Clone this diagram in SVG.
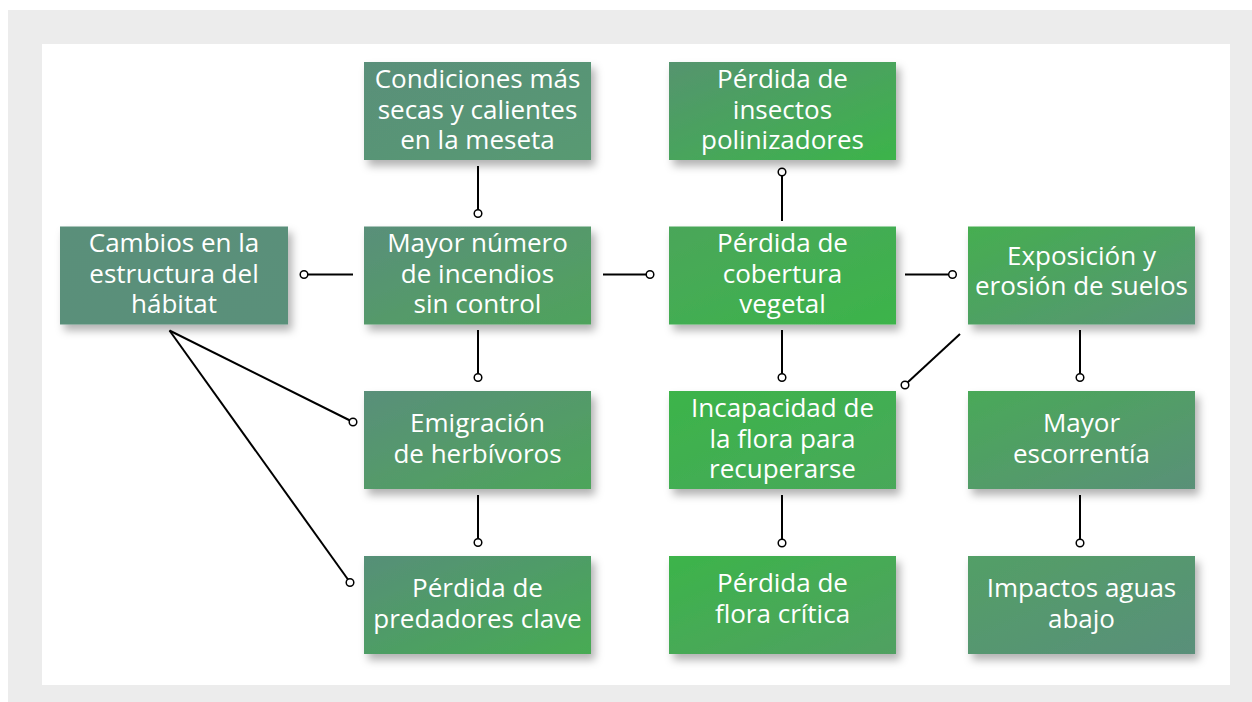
<svg xmlns="http://www.w3.org/2000/svg" width="1252" height="702" viewBox="0 0 1252 702">
<style>
.t{font-family:"Open Sans","Noto Sans",sans-serif;font-size:26px;fill:#ffffff;text-anchor:middle}
.c line{stroke:#000;stroke-width:2}
.c circle{fill:#fff;stroke:#000;stroke-width:1.5}
</style>
<defs>
<filter id="sh" x="-10%" y="-15%" width="125%" height="140%">
<feDropShadow dx="4" dy="6" stdDeviation="4" flood-color="#000" flood-opacity="0.3"/>
</filter>
<linearGradient id="gCamb" x1="0" y1="0" x2="1" y2="1"><stop offset="0" stop-color="#5a8f7a"/><stop offset="1" stop-color="#5a907a"/></linearGradient>
<linearGradient id="gCond" x1="0" y1="0" x2="1" y2="1"><stop offset="0" stop-color="#5a8f7a"/><stop offset="1" stop-color="#589a72"/></linearGradient>
<linearGradient id="gMay" x1="0" y1="0" x2="1" y2="1"><stop offset="0" stop-color="#5a8f7a"/><stop offset="1" stop-color="#4fa35c"/></linearGradient>
<linearGradient id="gEmi" x1="0" y1="0" x2="1" y2="1"><stop offset="0" stop-color="#5a8f7a"/><stop offset="1" stop-color="#4da55a"/></linearGradient>
<linearGradient id="gPred" x1="0" y1="0" x2="1" y2="1"><stop offset="0" stop-color="#568f78"/><stop offset="1" stop-color="#47ab53"/></linearGradient>
<linearGradient id="gIns" x1="0" y1="0" x2="1" y2="1"><stop offset="0" stop-color="#55946f"/><stop offset="1" stop-color="#3cb44a"/></linearGradient>
<linearGradient id="gCob" x1="0" y1="0" x2="1" y2="1"><stop offset="0" stop-color="#4aa65a"/><stop offset="1" stop-color="#3cb44a"/></linearGradient>
<linearGradient id="gInc" x1="0" y1="0" x2="1" y2="1"><stop offset="0" stop-color="#3cb44a"/><stop offset="1" stop-color="#48a85a"/></linearGradient>
<linearGradient id="gFlo" x1="0" y1="0" x2="1" y2="1"><stop offset="0" stop-color="#3cb44a"/><stop offset="1" stop-color="#51a062"/></linearGradient>
<linearGradient id="gExp" x1="0" y1="0" x2="1" y2="1"><stop offset="0" stop-color="#45ae50"/><stop offset="1" stop-color="#589476"/></linearGradient>
<linearGradient id="gEsc" x1="0" y1="0" x2="1" y2="1"><stop offset="0" stop-color="#4aa958"/><stop offset="1" stop-color="#5a9078"/></linearGradient>
<linearGradient id="gImp" x1="0" y1="0" x2="1" y2="1"><stop offset="0" stop-color="#529f66"/><stop offset="1" stop-color="#5a8f7a"/></linearGradient>
</defs>
<rect x="0" y="0" width="1252" height="702" fill="#ffffff"/>
<rect x="8" y="10" width="1244" height="692" fill="#ececec"/>
<rect x="42" y="44" width="1188" height="641" fill="#ffffff"/>

<g class="c" id="connectors">
<line x1="478" y1="166" x2="478" y2="210"/><circle cx="478" cy="213.5" r="3.8"/>
<line x1="353" y1="274.5" x2="307.5" y2="274.5"/><circle cx="304" cy="274.5" r="3.8"/>
<line x1="603" y1="274.5" x2="646.5" y2="274.5"/><circle cx="650" cy="274.5" r="3.8"/>
<line x1="478" y1="330" x2="478" y2="374"/><circle cx="478" cy="377.5" r="3.8"/>
<line x1="478" y1="495" x2="478" y2="539"/><circle cx="478" cy="542.5" r="3.8"/>
<line x1="169.5" y1="330.5" x2="350" y2="420.5"/><circle cx="353" cy="422" r="3.8"/>
<line x1="169.5" y1="330.5" x2="348" y2="579.5"/><circle cx="350" cy="582.5" r="3.8"/>
<line x1="782" y1="221" x2="782" y2="175.5"/><circle cx="782" cy="172" r="3.8"/>
<line x1="905" y1="274.5" x2="949" y2="274.5"/><circle cx="952.5" cy="274.5" r="3.8"/>
<line x1="782" y1="330" x2="782" y2="374"/><circle cx="782" cy="377.5" r="3.8"/>
<line x1="960" y1="334" x2="907.5" y2="382.5"/><circle cx="905" cy="385" r="3.8"/>
<line x1="1080" y1="330" x2="1080" y2="374"/><circle cx="1080" cy="377.5" r="3.8"/>
<line x1="782" y1="495" x2="782" y2="539"/><circle cx="782" cy="543" r="3.8"/>
<line x1="1080" y1="495" x2="1080" y2="539"/><circle cx="1080" cy="543" r="3.8"/>
</g>

<g id="n-cambios"><rect x="60" y="226.5" width="228" height="98" fill="url(#gCamb)" filter="url(#sh)"/>
<text class="t" x="174" y="252">Cambios en la</text><text class="t" x="174" y="283">estructura del</text><text class="t" x="174" y="313">hábitat</text></g>

<g id="n-condiciones"><rect x="364" y="62" width="227" height="98" fill="url(#gCond)" filter="url(#sh)"/>
<text class="t" x="477.5" y="88">Condiciones más</text><text class="t" x="477.5" y="119">secas y calientes</text><text class="t" x="477.5" y="149">en la meseta</text></g>

<g id="n-mayor"><rect x="364" y="226.5" width="227" height="98" fill="url(#gMay)" filter="url(#sh)"/>
<text class="t" x="477.5" y="252">Mayor número</text><text class="t" x="477.5" y="283">de incendios</text><text class="t" x="477.5" y="313">sin control</text></g>

<g id="n-emigracion"><rect x="364" y="391" width="227" height="98" fill="url(#gEmi)" filter="url(#sh)"/>
<text class="t" x="477.5" y="432">Emigración</text><text class="t" x="477.5" y="463">de herbívoros</text></g>

<g id="n-predadores"><rect x="364" y="556" width="227" height="98" fill="url(#gPred)" filter="url(#sh)"/>
<text class="t" x="477.5" y="597">Pérdida de</text><text class="t" x="477.5" y="628">predadores clave</text></g>

<g id="n-insectos"><rect x="669" y="62" width="227" height="98" fill="url(#gIns)" filter="url(#sh)"/>
<text class="t" x="782.5" y="88">Pérdida de</text><text class="t" x="782.5" y="119">insectos</text><text class="t" x="782.5" y="149">polinizadores</text></g>

<g id="n-cobertura"><rect x="669" y="226.5" width="227" height="98" fill="url(#gCob)" filter="url(#sh)"/>
<text class="t" x="782.5" y="252">Pérdida de</text><text class="t" x="782.5" y="283">cobertura</text><text class="t" x="782.5" y="313">vegetal</text></g>

<g id="n-incapacidad"><rect x="669" y="391" width="227" height="98" fill="url(#gInc)" filter="url(#sh)"/>
<text class="t" x="782.5" y="417">Incapacidad de</text><text class="t" x="782.5" y="448">la flora para</text><text class="t" x="782.5" y="478">recuperarse</text></g>

<g id="n-flora"><rect x="669" y="556" width="227" height="98" fill="url(#gFlo)" filter="url(#sh)"/>
<text class="t" x="782.5" y="592">Pérdida de</text><text class="t" x="782.5" y="623">flora crítica</text></g>

<g id="n-exposicion"><rect x="968" y="226.5" width="227" height="98" fill="url(#gExp)" filter="url(#sh)"/>
<text class="t" x="1081.5" y="265">Exposición y</text><text class="t" x="1081.5" y="295">erosión de suelos</text></g>

<g id="n-escorrentia"><rect x="968" y="391" width="227" height="98" fill="url(#gEsc)" filter="url(#sh)"/>
<text class="t" x="1081.5" y="432">Mayor</text><text class="t" x="1081.5" y="463">escorrentía</text></g>

<g id="n-impactos"><rect x="968" y="556" width="227" height="98" fill="url(#gImp)" filter="url(#sh)"/>
<text class="t" x="1081.5" y="597">Impactos aguas</text><text class="t" x="1081.5" y="628">abajo</text></g>
</svg>
